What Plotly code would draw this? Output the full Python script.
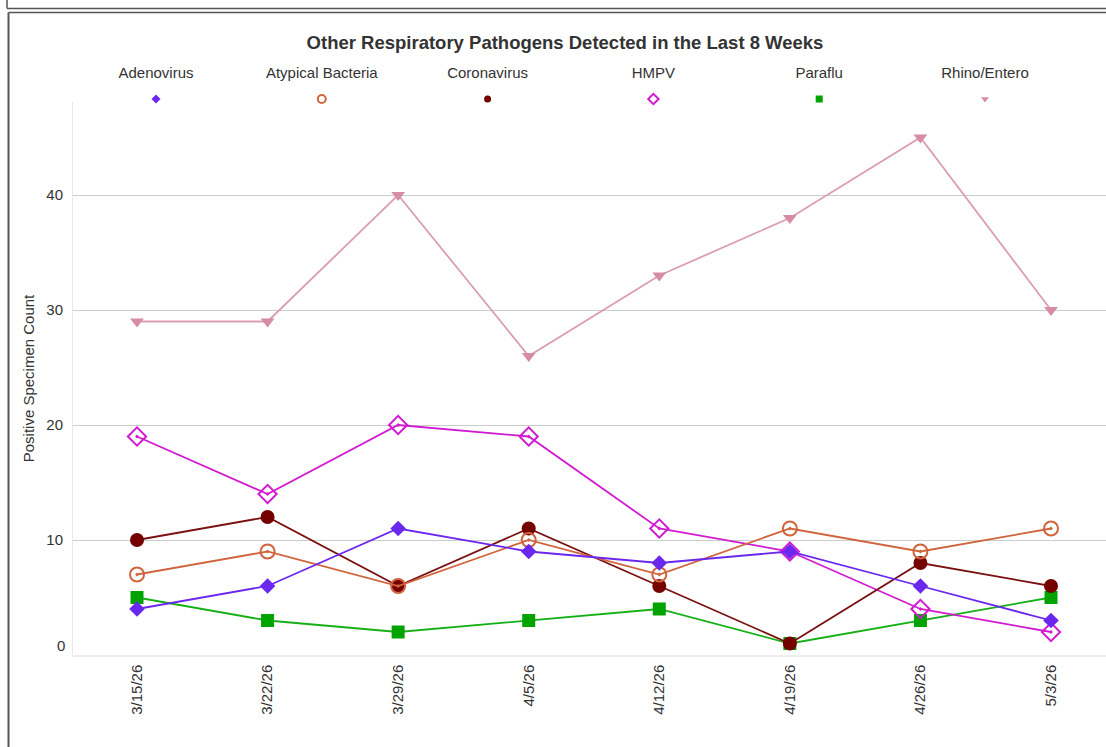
import plotly.graph_objects as go

# ---------------- data ----------------
dates = ["3/15/26", "3/22/26", "3/29/26", "4/5/26", "4/12/26", "4/19/26", "4/26/26", "5/3/26"]
series_names = ["Adenovirus", "Atypical Bacteria", "Coronavirus", "HMPV", "Paraflu", "Rhino/Entero"]
adenovirus = [4, 6, 11, 9, 8, 9, 6, 3]
atypical_bacteria = [7, 9, 6, 10, 7, 11, 9, 11]
coronavirus = [10, 12, 6, 11, 6, 1, 8, 6]
hmpv = [19, 14, 20, 19, 11, 9, 4, 2]
paraflu = [5, 3, 2, 3, 4, 1, 3, 5]
rhino_entero = [29, 29, 40, 26, 33, 38, 45, 30]
y_tick_values = [0, 10, 20, 30, 40]

values = [adenovirus, atypical_bacteria, coronavirus, hmpv, paraflu, rhino_entero]

# ---------------- styles ----------------
colors = ["#6a28ef", "#d0643c", "#740000", "#d21ad2", "#00a300", "#d68ca6"]
line_colors = ["#6a28ef", "#d0643c", "#7a1010", "#d21ad2", "#16b016", "#dc9db2"]
symbols = ["diamond", "circle-open-dot", "circle", "diamond-open-dot", "square", "triangle-down"]
sizes = [12, 14, 14, 14, 13, 12]
legend_sizes = [7, 8, 7, 8, 7, 7]

W, H = 1106, 747
ML, MR, MT, MB = 73, 0, 60, 92
plot_w = W - ML - MR
plot_h = H - MT - MB
bottom_px = H - MB


def px_to_paper_x(px):
    return (px - ML) / plot_w


def px_to_paper_y(py):
    return (bottom_px - py) / plot_h


main_top_px = 102
font_family = "Liberation Sans, Arial, sans-serif"
text_color = "#333333"

fig = go.Figure()

# draw in reverse order (first series on top)
for i in reversed(range(len(series_names))):
    is_open = "open" in symbols[i]
    fig.add_trace(go.Scatter(
        x=dates, y=values[i], name=series_names[i], mode="lines+markers",
        line=dict(color=line_colors[i], width=1.8),
        marker=dict(symbol=symbols[i], size=sizes[i], color=colors[i],
                    line=dict(color=colors[i], width=2 if is_open else 0)),
        showlegend=False, xaxis="x", yaxis="y",
    ))

# custom legend: marker below the name
leg_center0, leg_step = 156, 165.8
leg_top_px, leg_bot_px = 64, 108
for i in range(len(series_names)):
    is_open = "open" in symbols[i]
    fig.add_trace(go.Scatter(
        x=[i], y=[(leg_bot_px - 99) / (leg_bot_px - leg_top_px)], mode="markers",
        marker=dict(symbol=symbols[i].replace("-dot", ""), size=legend_sizes[i], color=colors[i],
                    line=dict(color=colors[i], width=2 if is_open else 0)),
        showlegend=False, hoverinfo="skip", xaxis="x2", yaxis="y2",
    ))
fig.add_trace(go.Scatter(
    x=list(range(len(series_names))),
    y=[(leg_bot_px - 74) / (leg_bot_px - leg_top_px)] * len(series_names),
    mode="text", text=series_names, textposition="middle center",
    textfont=dict(size=15, color=text_color, family=font_family),
    showlegend=False, hoverinfo="skip", xaxis="x2", yaxis="y2",
))

# frame lines (surrounding page boxes)
frame_color = "#555555"
shapes = [
    dict(type="line", xref="paper", yref="paper",
         x0=px_to_paper_x(7), x1=px_to_paper_x(W + 5), y0=px_to_paper_y(8.5), y1=px_to_paper_y(8.5),
         line=dict(color=frame_color, width=1.5)),
    dict(type="line", xref="paper", yref="paper",
         x0=px_to_paper_x(7), x1=px_to_paper_x(7), y0=px_to_paper_y(-5), y1=px_to_paper_y(8.5),
         line=dict(color=frame_color, width=1.5)),
    dict(type="line", xref="paper", yref="paper",
         x0=px_to_paper_x(8.5), x1=px_to_paper_x(W + 5), y0=px_to_paper_y(12.5), y1=px_to_paper_y(12.5),
         line=dict(color=frame_color, width=1.5)),
    dict(type="line", xref="paper", yref="paper",
         x0=px_to_paper_x(8.5), x1=px_to_paper_x(8.5), y0=px_to_paper_y(12.5), y1=px_to_paper_y(H + 5),
         line=dict(color=frame_color, width=2)),
]

px_per_cat = (1051 - 137) / 7
x_lo = -(137 - ML) / px_per_cat
x_hi = 7 + (W - MR - 1051) / px_per_cat

fig.update_layout(
    width=W, height=H,
    margin=dict(l=ML, r=MR, t=MT, b=MB),
    paper_bgcolor="white", plot_bgcolor="white",
    font=dict(family=font_family, color=text_color, size=15),
    title=dict(text="<b>Other Respiratory Pathogens Detected in the Last 8 Weeks</b>",
               x=px_to_paper_x(565), xref="paper", xanchor="center",
               y=1 - 43 / H, yref="container", yanchor="middle",
               font=dict(size=18.5, color=text_color, family=font_family)),
    xaxis=dict(type="category", categoryorder="array", categoryarray=dates,
               range=[x_lo, x_hi], tickangle=-90, showgrid=False,
               showline=True, linecolor="#eeeeee", linewidth=1.5,
               ticks="", ticklabelstandoff=2, tickfont=dict(size=15, color=text_color),
               zeroline=False, anchor="y"),
    yaxis=dict(range=[0, (bottom_px - main_top_px) / 11.5],
               domain=[0, px_to_paper_y(main_top_px)],
               tickvals=y_tick_values,
               ticktext=["" if v == 0 else str(v) for v in y_tick_values],
               showgrid=True, gridcolor="#cccccc", gridwidth=1,
               zeroline=False, showline=True, linecolor="#e8e8e8", linewidth=1,
               ticks="", ticklabelstandoff=6, tickfont=dict(size=15, color=text_color),
               title=dict(text="Positive Specimen Count", standoff=8,
                          font=dict(size=15, color=text_color)),
               anchor="x"),
    xaxis2=dict(domain=[0, 1], range=[(ML - leg_center0) / leg_step, (W - MR - leg_center0) / leg_step],
                visible=False, anchor="y2", fixedrange=True),
    yaxis2=dict(domain=[px_to_paper_y(leg_bot_px), px_to_paper_y(leg_top_px)], range=[0, 1],
                visible=False, anchor="x2", fixedrange=True),
    shapes=shapes,
    annotations=[dict(text=str(y_tick_values[0]), x=0, xref="paper", y=0, yref="y",
                      xanchor="right", yanchor="middle", xshift=-6, yshift=10, showarrow=False,
                      font=dict(size=15, color=text_color))],
)

fig.write_html(
    "out.html",
    config={"displayModeBar": False},
    post_script=(
        "document.body.style.margin='0px';"
        "document.body.style.overflow='hidden';"
        "document.documentElement.style.overflow='hidden';"
    ),
)
